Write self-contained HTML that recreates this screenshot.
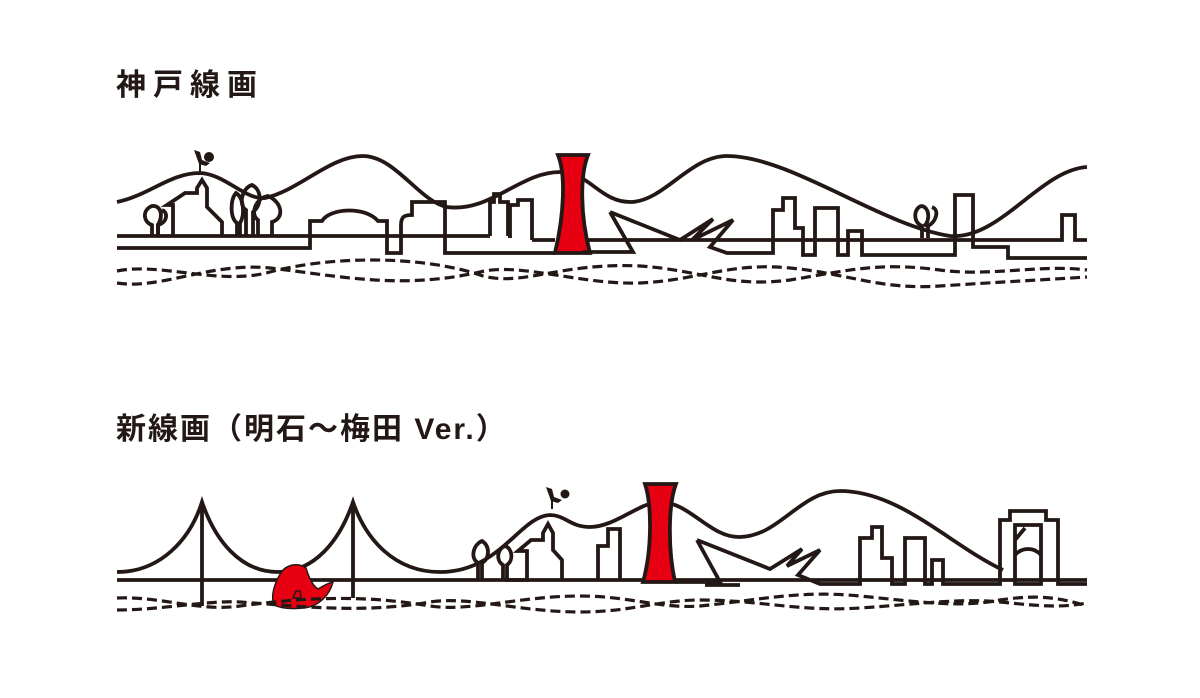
<!DOCTYPE html>
<html><head><meta charset="utf-8"><style>
html,body{margin:0;padding:0;background:#fff;width:1200px;height:698px;overflow:hidden}
.t{position:absolute;font-family:"Liberation Sans","Noto Sans CJK JP",sans-serif;font-weight:bold;color:#231815;font-size:30px;line-height:1}
</style></head><body>
<div class="t" style="left:116px;top:71px;letter-spacing:7px">神戸線画</div>
<div class="t" style="left:116px;top:415px;letter-spacing:2px">新線画（明石〜梅田 Ver.）</div>
<svg width="1200" height="698" style="position:absolute;left:0;top:0" fill="none" stroke="#231815" stroke-width="3.8" stroke-linejoin="miter">
<!-- TOP PANEL -->
<path d="M117,202 C150,195 170,173 200,173 C225,174 245,200 265,198 C300,190 330,156 363,156 C395,156 420,202 447,207 C490,213 520,172 560,172 C590,172 600,203 632,202 C665,200 690,156 727,156 C790,156 880,225 950,236 C1000,240 1040,170 1087,167"/>
<path d="M117,236 H490 M508,236 H510 M532,240 H555"/>
<path d="M580,240 H1062 V215 H1075 V240 H1087"/>
<path d="M117,248 H310 V221 H322 C330,208 365,206 378,221 H387 V253 H401 V225 C401,216 405,215 412,215 V202 H445 V253 H555"/>
<path d="M490,236 V202 H494 V194 H500 V202 H508 V236"/>
<path d="M510,238 V205 H518 V200 H532 V240"/>
<path d="M173,236 V205 H167 L185,193 H197 V188 L202,180 L207,188 V207 L222,222 V236"/>
<path d="M152,236 V225 C143,222 142,210 152,206 C160,205 164,214 158,225 V236"/>
<path d="M158,236 V225 C168,222 168,212 162,210"/>
<path d="M237,236 V223 C230,218 230,200 236,193 C244,198 245,215 240,223 V236"/>
<path d="M246,236 V210 C238,205 242,188 252,185 C262,190 262,205 253,212 V236"/>
<path d="M258,236 V220 C250,215 255,198 268,196 C282,202 285,218 272,222 V236"/>
<path d="M922,238 V226 C912,222 914,207 922,206 C930,208 930,222 924,226"/>
<path d="M928,238 V226 C936,222 940,210 932,207"/>
<g fill="#231815" stroke="none"><circle cx="209" cy="157" r="5"/><path d="M194,150 L200,152 L202,160 L210,163 L206,166 L199,164 Z"/><rect x="199" y="163" width="2" height="10"/></g>
<path d="M558,155 H588 C580,175 580,215 590,253 H555 C564,215 566,175 558,155 Z" fill="#e60012"/>
<path d="M610,212 L633,252 H583 M610,212 L680,240 L713,219 L692,240 L733,220 L710,247 L727,253 H773 V210 H783 V198 H795 V228 H803 V255 H815 V208 H838 V255 H848 V231 H862 V255 H955 V195 H973 V247 H1008 V258 H1087"/>
<g stroke-dasharray="10,5" stroke-width="3.2">
<path d="M117,271 C160,262 220,286 270,272 C330,256 420,255 480,275 C520,288 560,262 640,266 C700,270 730,288 790,280 C850,270 880,262 940,270 C990,277 1040,264 1087,270"/>
<path d="M117,283 C160,290 210,262 270,268 C340,276 400,290 480,272 C520,262 580,285 640,283 C700,280 730,262 790,268 C850,274 880,290 940,286 C1000,282 1040,280 1087,277"/>
</g>

<!-- BOTTOM PANEL -->
<path d="M117,572 C160,572 190,540 202,502 C215,540 240,572 278,572 C315,572 340,540 353,502 C366,540 395,572 440,572 C500,572 520,516 550,515 C565,515 570,527 590,527 C615,527 640,502 660,502 C690,502 710,538 740,537 C780,536 800,491 840,491 C900,491 950,545 1003,570"/>
<path d="M117,580 H1087"/>
<path d="M202,502 V606 M353,502 V598"/>
<path d="M705,585 H740"/>
<path d="M478,580 V563 C470,558 473,545 482,541 C490,546 490,558 482,563 V580"/>
<path d="M503,580 V565 C495,560 498,548 505,546 C512,548 514,560 507,565 V580 H527 V551 H518 L531,540 H543 V533 L548,524 L553,533 V550 L562,560 V580"/>
<path d="M598,580 V546 H608 V529 H620 V580"/>
<g fill="#231815" stroke="none"><circle cx="565" cy="494" r="4.5"/><path d="M546,487 L552,489 L554,497 L562,500 L558,503 L551,501 Z"/><rect x="551" y="500" width="2" height="9"/></g>
<path d="M645,484 H676 C668,505 668,550 675,582 H643 C652,550 652,505 645,484 Z" fill="#e60012"/>
<path d="M697,540 L720,582 H676 M697,540 L770,569 L802,549 L787,566 L820,550 L798,575 L820,584 H860 V538 H872 V527 H882 V558 H892 V584 H905 V538 H925 V584 H932 V560 H943 V584 H1000 V520 H1010 V511 H1046 V520 H1058 V584 H1087"/>
<path d="M1015,525 H1041 V584 H1015 Z M1015,540 L1025,528 M1015,555 C1022,547 1034,547 1041,555"/>
<path d="M274,605 C270,595 276,578 284,569 C290,564 300,563 306,568 C309,578 313,586 318,589 C323,586 328,583 333,582 C330,594 320,606 304,608 C294,609 282,609 274,605 Z" fill="#e60012" stroke-width="1.5"/>
<path d="M293,598 L296,591 H300 L301,598 Z" stroke-width="1.5"/>
<g stroke-dasharray="10,5" stroke-width="3.2">
<path d="M117,598 C160,596 200,612 240,606 C300,598 360,594 430,606 C470,612 520,596 580,596 C630,596 660,609 700,606 C760,600 800,590 860,596 C920,602 960,608 1000,600 C1040,594 1060,598 1087,606"/>
<path d="M117,610 C160,610 210,600 240,602 C300,606 360,614 430,602 C470,596 520,612 580,612 C630,612 660,600 700,600 C760,600 800,612 860,608 C920,604 960,598 1000,602 C1040,606 1060,608 1087,603"/>
</g>
</svg>
</body></html>
